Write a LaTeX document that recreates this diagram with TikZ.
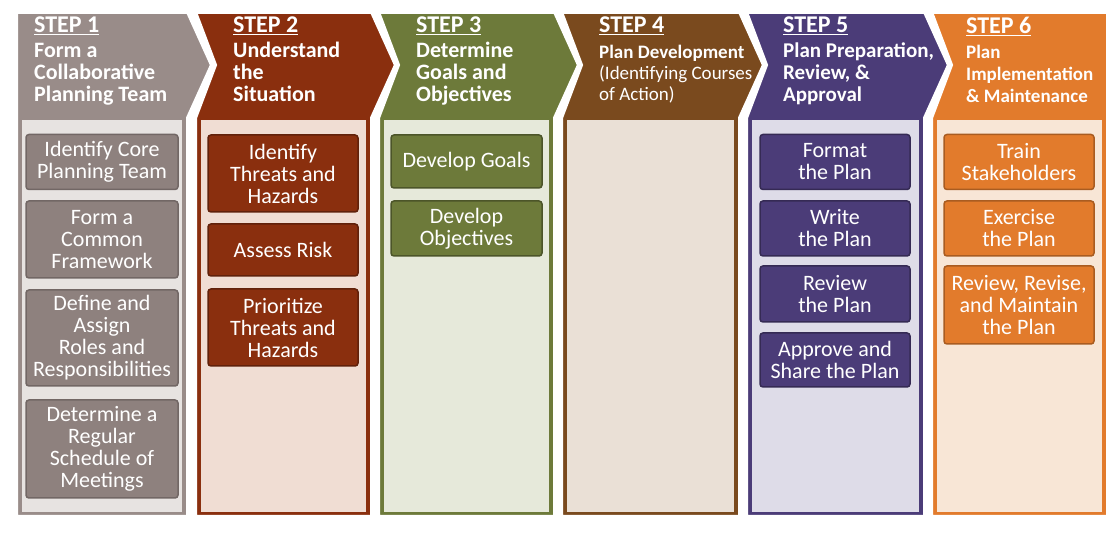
\documentclass[tikz,border=0pt]{standalone}
\usepackage{fontspec}
\setmainfont{Carlito}
\usetikzlibrary{positioning}
\definecolor{cA}{HTML}{998C89}\definecolor{bA}{HTML}{E7E3E1}\definecolor{kA}{HTML}{8E817E}
\definecolor{cB}{HTML}{8A2F0E}\definecolor{bB}{HTML}{F0DDD3}\definecolor{kB}{HTML}{8A2F0E}
\definecolor{cC}{HTML}{6D7A3A}\definecolor{bC}{HTML}{E6E9DA}\definecolor{kC}{HTML}{6D7A3A}
\definecolor{cD}{HTML}{7A4A1E}\definecolor{bD}{HTML}{EAE0D6}
\definecolor{cE}{HTML}{4B3C78}\definecolor{bE}{HTML}{DEDCE8}\definecolor{kE}{HTML}{4B3C78}
\definecolor{cF}{HTML}{E27B2C}\definecolor{bF}{HTML}{F8E6D6}\definecolor{kF}{HTML}{E27B2C}
\tikzset{
  stepbox/.style={rounded corners=3pt, line width=1.5pt, text=white, align=center,
    font=\fontsize{22}{22}\selectfont, inner sep=0pt, minimum height=#1},
  steptitle/.style={anchor=north west, text=white, align=left, inner sep=0pt,
    font=\bfseries\fontsize{22}{22}\selectfont},
}
% column outline: left, right, colour, body colour
\newcommand\stepcol[5]{%
  \fill[#3, draw=white, line width=4pt, line join=miter]
    (#1,12) -- (#2,12) -- (#2+#5,65) -- (#2,118) -- (#2,517) -- (#1,517)
    -- (#1,118) -- (#1+#5*0+\notch,65) -- cycle;
  \fill[#4] (#1+6,120) rectangle (#2-6,512);}
\begin{document}
\begin{tikzpicture}[x=1pt,y=-1pt]
\useasboundingbox (0,0) rectangle (1120,534);
\fill[white] (0,0) rectangle (1120,534);

\def\notch{0}\stepcol{16}{188}{cA}{bA}{24}
\def\notch{20}\stepcol{195}{372}{cB}{bB}{24}
\stepcol{378}{555}{cC}{bC}{24}
\stepcol{561}{740}{cD}{bD}{24}
\stepcol{746}{925}{cE}{bE}{24}
\fill[cF, draw=white, line width=4pt] (931,12) -- (1108,12) -- (1108,517) -- (931,517)
  -- (931,118) -- (951,65) -- cycle;
\fill[bF] (937,120) rectangle (1102,512);

% headers
\node[steptitle] (t1) at (34,17) {{\fontsize{24}{24}\selectfont\underline{STEP 1}}\\[3pt]Form a\\Collaborative\\Planning Team};
\node[steptitle] (t2) at (233,17) {{\fontsize{24}{24}\selectfont\underline{STEP 2}}\\[3pt]Understand\\the\\Situation};
\node[steptitle] (t3) at (416,17) {{\fontsize{24}{24}\selectfont\underline{STEP 3}}\\[3pt]Determine\\Goals and\\Objectives};
\node[steptitle, font=\bfseries\fontsize{19}{21}\selectfont] (t4) at (599,17)
  {{\fontsize{24}{24}\selectfont\underline{STEP 4}}\\[5pt]Plan Development\\{\mdseries(Identifying Courses}\\{\mdseries of Action)}};
\node[steptitle, font=\bfseries\fontsize{21}{22}\selectfont] (t5) at (783,17) {{\fontsize{24}{24}\selectfont\underline{STEP 5}}\\[3pt]Plan Preparation,\\Review, \&\\Approval};
\node[steptitle, font=\bfseries\fontsize{19}{22}\selectfont] (t6) at (966,17) {{\fontsize{24}{24}\selectfont\underline{STEP 6}}\\[3pt]Plan\\Implementation\\\& Maintenance};

% step 1
\node[stepbox=55, fill=kA, draw=kA!80!black, minimum width=152] (a1) at (102,162) {Identify Core\\Planning Team};
\node[stepbox=77, fill=kA, draw=kA!80!black, minimum width=152] (a2) at (102,239.5) {Form a\\Common\\Framework};
\node[stepbox=96, fill=kA, draw=kA!80!black, minimum width=152] (a3) at (102,338) {Define and\\Assign\\Roles and\\Responsibilities};
\node[stepbox=98, fill=kA, draw=kA!80!black, minimum width=152] (a4) at (102,449) {Determine a\\Regular\\Schedule of\\Meetings};
% step 2
\node[stepbox=77, fill=kB, draw=kB!70!black, minimum width=150] (b1) at (283,173.5) {Identify\\Threats and\\Hazards};
\node[stepbox=52, fill=kB, draw=kB!70!black, minimum width=150] (b2) at (283,250) {Assess Risk};
\node[stepbox=77, fill=kB, draw=kB!70!black, minimum width=150] (b3) at (283,327.5) {Prioritize\\Threats and\\Hazards};
% step 3
\node[stepbox=53, fill=kC, draw=kC!70!black, minimum width=151] (c1) at (466.5,161.5) {Develop Goals};
\node[stepbox=55, fill=kC, draw=kC!70!black, minimum width=151] (c2) at (466.5,228.5) {Develop\\Objectives};
% step 5
\node[stepbox=55, fill=kE, draw=kE!70!black, minimum width=150] (e1) at (835,162) {Format\\the Plan};
\node[stepbox=55, fill=kE, draw=kE!70!black, minimum width=150] (e2) at (835,228.5) {Write\\the Plan};
\node[stepbox=56, fill=kE, draw=kE!70!black, minimum width=150] (e3) at (835,294) {Review\\the Plan};
\node[stepbox=54, fill=kE, draw=kE!70!black, minimum width=150] (e4) at (835,360) {Approve and\\Share the Plan};
% step 6
\node[stepbox=55, fill=kF, draw=kF!75!black, minimum width=150] (f1) at (1019,162) {Train\\Stakeholders};
\node[stepbox=55, fill=kF, draw=kF!75!black, minimum width=150] (f2) at (1019,228.5) {Exercise\\the Plan};
\node[stepbox=78, fill=kF, draw=kF!75!black, minimum width=150] (f3) at (1019,305) {Review, Revise,\\and Maintain\\the Plan};
\end{tikzpicture}
\end{document}
